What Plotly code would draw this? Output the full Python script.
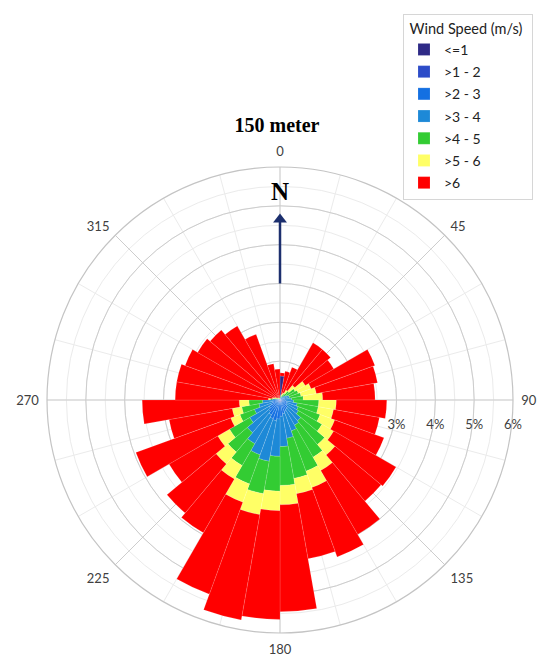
import plotly.graph_objects as go

directions = [5, 15, 25, 35, 45, 55, 65, 75, 85, 95, 105, 115, 125, 135, 145, 155, 165, 175,
              185, 195, 205, 215, 225, 235, 245, 255, 265, 275, 285, 295, 305, 315, 325, 335, 345, 355]

speed_le1 = [0.62, 0.01, 0.01, 0.01, 0.01, 0.01, 0.01, 0.01, 0.01, 0.01, 0.01, 0.01, 0.01, 0.01, 0.01, 0.01, 0.01, 0.01,
             0.01, 0.01, 0.01, 0.01, 0.01, 0.01, 0.01, 0.01, 0.01, 0.01, 0.01, 0.01, 0.01, 0.01, 0.01, 0.01, 0.01, 0.01]
speed_1_2 = [0.00, 0.01, 0.02, 0.02, 0.03, 0.03, 0.03, 0.03, 0.03, 0.04, 0.04, 0.04, 0.04, 0.05, 0.05, 0.05, 0.05, 0.06,
             0.06, 0.06, 0.06, 0.05, 0.05, 0.05, 0.04, 0.04, 0.04, 0.03, 0.02, 0.01, 0.01, 0.01, 0.01, 0.01, 0.01, 0.01]
speed_2_3 = [0.00, 0.01, 0.03, 0.03, 0.04, 0.06, 0.07, 0.07, 0.09, 0.10, 0.13, 0.15, 0.16, 0.20, 0.22, 0.25, 0.30, 0.35,
             0.42, 0.47, 0.44, 0.38, 0.32, 0.26, 0.20, 0.16, 0.13, 0.06, 0.03, 0.01, 0.01, 0.01, 0.01, 0.01, 0.00, 0.00]
speed_3_4 = [0.00, 0.02, 0.04, 0.04, 0.07, 0.10, 0.14, 0.14, 0.17, 0.20, 0.27, 0.30, 0.34, 0.44, 0.47, 0.54, 0.64, 0.78,
             0.96, 1.06, 0.99, 0.86, 0.72, 0.58, 0.45, 0.34, 0.27, 0.10, 0.04, 0.02, 0.02, 0.00, 0.00, 0.00, 0.00, 0.00]
speed_4_5 = [0.00, 0.05, 0.05, 0.10, 0.15, 0.25, 0.25, 0.30, 0.30, 0.65, 0.55, 0.60, 0.70, 0.80, 0.95, 1.10, 1.05, 1.00,
             0.90, 0.85, 0.80, 0.65, 0.65, 0.60, 0.40, 0.45, 0.35, 0.05, 0.05, 0.05, 0.03, 0.02, 0.02, 0.01, 0.01, 0.01]
speed_5_6 = [0.00, 0.05, 0.05, 0.10, 0.20, 0.30, 0.35, 0.40, 0.50, 0.45, 0.40, 0.40, 0.35, 0.35, 0.40, 0.45, 0.40, 0.50,
             0.50, 0.55, 0.50, 0.40, 0.40, 0.35, 0.25, 0.25, 0.25, 0.05, 0.05, 0.05, 0.02, 0.03, 0.02, 0.02, 0.02, 0.01]
speed_gt6 = [0.08, 0.60, 0.70, 1.40, 1.20, 0.85, 1.75, 1.60, 1.35, 1.30, 1.20, 1.35, 1.85, 1.55, 1.90, 1.90, 1.70, 2.75,
             2.80, 2.75, 2.52, 1.60, 1.65, 1.45, 2.60, 1.65, 2.50, 2.40, 2.50, 2.45, 2.35, 2.27, 2.13, 1.74, 0.90, 0.76]

series_names = ["<=1", ">1 - 2", ">2 - 3", ">3 - 4", ">4 - 5", ">5 - 6", ">6"]
series_values = [speed_le1, speed_1_2, speed_2_3, speed_3_4, speed_4_5, speed_5_6, speed_gt6]
series_colors = ["#2E2A86", "#2C4CC8", "#1470E2", "#1D89D7", "#33CC33", "#FFFF66", "#FF0000"]

angle_labels = ["0", "45", "90", "135", "180", "225", "270", "315"]
angle_ticks = [0, 45, 90, 135, 180, 225, 270, 315]
minor_angle_ticks = list(range(0, 360, 15))
radial_ticks = [1, 2, 3, 4, 5, 6]
radial_labels = ["", "", "3%", "4%", "5%", "6%"]
minor_radial_ticks = [0.5, 1, 1.5, 2, 2.5, 3, 3.5, 4, 4.5, 5, 5.5, 6]

arrow_r = [3.0, 4.6]
arrow_head_r = 4.65
north_r = 5.3

fig = go.Figure()

# bottom subplot: minor grid only
fig.add_trace(go.Scatterpolar(r=[0], theta=[0], mode="markers", marker=dict(opacity=0),
                              showlegend=False, hoverinfo="skip", subplot="polar"))

for name, vals, col in zip(series_names, series_values, series_colors):
    fig.add_trace(go.Barpolar(r=vals, theta=directions, name=name, width=10,
                              marker=dict(color=col, line=dict(width=0.4, color="rgba(255,255,255,0.35)")),
                              legendgroup=name, subplot="polar2"))

fig.add_trace(go.Scatterpolar(r=arrow_r, theta=[0, 0], mode="lines",
                              line=dict(color="#1C2F6E", width=2.5),
                              showlegend=False, hoverinfo="skip", subplot="polar2"))
fig.add_trace(go.Scatterpolar(r=[arrow_head_r], theta=[0], mode="markers",
                              marker=dict(symbol="triangle-up", size=12, color="#1C2F6E"),
                              showlegend=False, hoverinfo="skip", subplot="polar2"))
fig.add_trace(go.Scatterpolar(r=[north_r], theta=[0], mode="text", text=["<b>N</b>"],
                              textfont=dict(family="Liberation Serif", size=25, color="#000000"),
                              showlegend=False, hoverinfo="skip", subplot="polar2"))

# page body has an 8px margin; centre of the rose at (272, 392) inside the figure
W, H = 550, 659
CX, CY, R = 272, 392, 233
cx0, cx1 = (CX - R) / W, (CX + R) / W
cy0, cy1 = (H - CY - R) / H, (H - CY + R) / H

fig.update_layout(
    width=W, height=H,
    margin=dict(l=0, r=0, t=0, b=0),
    paper_bgcolor="white",
    font=dict(family="Lato", color="#404040", size=13),
    title=dict(text="<b>150 meter</b>", x=269 / W, y=1 - 117 / H, xanchor="center", yanchor="middle",
               font=dict(family="Liberation Serif", size=20, color="#000000")),
    polar=dict(
        domain=dict(x=[cx0, cx1], y=[cy0, cy1]),
        bgcolor="white",
        angularaxis=dict(direction="clockwise", rotation=90, tickmode="array", tickvals=minor_angle_ticks,
                         showticklabels=False, ticks="", gridcolor="#EBEBEB", gridwidth=1, showline=False),
        radialaxis=dict(range=[0, 6], tickmode="array", tickvals=minor_radial_ticks, showticklabels=False,
                        ticks="", gridcolor="#EBEBEB", gridwidth=1, showline=False),
    ),
    polar2=dict(
        domain=dict(x=[cx0, cx1], y=[cy0, cy1]),
        bgcolor="rgba(0,0,0,0)",
        bargap=0,
        barmode="stack",
        angularaxis=dict(direction="clockwise", rotation=90, tickmode="array", tickvals=angle_ticks,
                         ticktext=angle_labels, ticks="outside", ticklen=5, tickcolor="rgba(0,0,0,0)",
                         gridcolor="#CDCDCD", gridwidth=1,
                         showline=True, linecolor="#C4C4C4", linewidth=1.2,
                         tickfont=dict(family="Lato", size=13, color="#404040")),
        radialaxis=dict(range=[0, 6], angle=0, side="clockwise", tickmode="array", tickvals=radial_ticks,
                        ticktext=radial_labels, ticks="outside", ticklen=13, tickcolor="rgba(0,0,0,0)",
                        gridcolor="#CDCDCD", gridwidth=1, showline=False, tickangle=0,
                        tickfont=dict(family="Lato", size=13, color="#404040")),
    ),
    legend=dict(x=395 / W, y=1 - 6 / H, xanchor="left", yanchor="top",
                bordercolor="#D6D6D6", borderwidth=1, bgcolor="white",
                traceorder="grouped", tracegroupgap=1,
                title=dict(text="\u00a0Wind Speed (m/s)\u00a0\u00a0",
                           font=dict(family="Lato", size=14.5, color="#222222")),
                font=dict(family="Lato", size=14, color="#222222"),
                itemwidth=30),
    showlegend=True,
)

fig.write_html("out.html")
